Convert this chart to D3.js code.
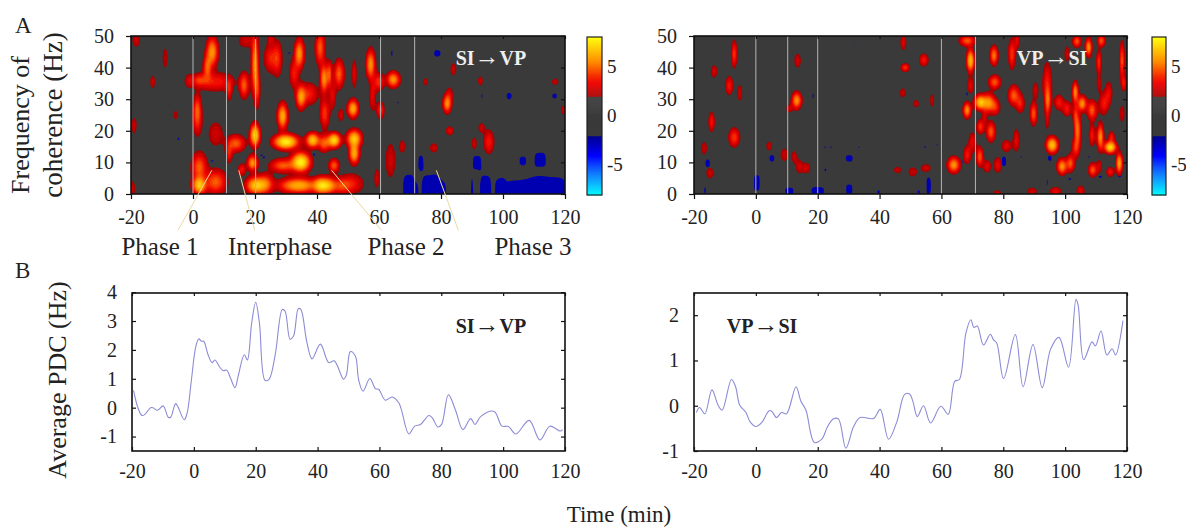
<!DOCTYPE html>
<html>
<head>
<meta charset="utf-8">
<script src="https://cdnjs.cloudflare.com/ajax/libs/d3/7.8.5/d3.min.js"></script>
<style>
html, body { margin: 0; padding: 0; background: #fff; }
text { font-family: "Liberation Serif", serif; fill: #222; }
</style>
</head>
<body>
<div id="chart"></div>
<script>
// blobs: [time, freq, half duration, half bandwidth, peak]
let siVpRed = [
  [6.2,45,1.6,5,6],[2,36,1.6,1.6,4],[-1.3,35.8,.8,1.5,3],[7.3,35.5,4.5,2.5,4],[4.6,40,1,4,5],[1.4,26.5,1,5,5],[1.4,22,.8,3,3],
  [11.6,33,.6,3,4],[16.5,34.4,1.2,4,5],[20,41,.9,11,6],[20.8,33,.5,5,4],[25,43,1.5,4,4],[27.3,42.8,1,5,4],[17,48.4,1.5,1.5,3],
  [34.3,44.4,1.3,5,6],[41,46.3,1.2,5.5,5],[32.6,38,1,4,4],[34.8,30.7,1.3,4,6],[28.9,24.6,1.4,4.5,6.5],[37.5,31.7,2,3,4],
  [42.5,25.5,1.1,4.5,4.5],[20,18.6,1.4,4,7.5],[30,16.5,4,2.6,8],[38.6,17,2,2.5,7],[13.8,16,2.5,2.5,5],[7.3,19,1.5,3,3],
  [19.2,9.8,1.4,2.5,6],[34.8,10.1,3,3.5,8],[29,9,3.5,2,5],[11.6,12.8,.7,2.5,4],[2,8.5,2,4.5,5],[2,2.7,2,3,7],[7.3,3.8,3,3.8,5],
  [20.3,2.7,3,3,7],[23.5,3.2,2,3,5],[34,2.7,6,2.5,6.5],[41,2.7,2,2.7,6],[15.7,7.7,.8,1.5,4],[-19,21.7,.4,2,3],[-19.6,1.7,.5,1.8,3],
  [-9,43,.4,2.5,2.5],[-13,35.5,.4,1.5,3],[-18.3,48.6,.7,1.5,3],[-5.6,25,.3,1,2.5],[25,49,.5,1,3],
  [42.3,36.5,1,5,6],[44,38,.5,4,5],[47.1,38,1.3,4.5,5],[52,38,.4,4,3.5],[57.3,41,1.2,5,6],[60,35.5,1.2,2.5,4.5],[64.6,36.2,1.8,2.5,6],
  [57.9,31,.6,4,3.5],[45,31,.6,3.5,3.5],[51.6,27,1.5,3,6.5],[60.5,26.5,.8,2.5,4.5],[45.5,17,2,2.5,7.5],[52,17.5,2.2,3,7],[52,12.8,1.4,3.5,6.5],
  [42.3,16,1.5,2.5,5],[45.5,9,1.3,2,5],[43.4,2.7,2.5,2.7,6.5],[50.9,3.2,3,2.7,4],[47.7,2.5,2,2,4],[47.7,25,.5,1.5,3],[59.3,5,.4,2.5,3],
  [67.5,15,.5,1.5,3],[63.7,10.6,1,4.5,3],[82,28.6,1.1,3,6],[82.8,31.7,.5,1.5,3],[82.8,20,.8,1,3.5],[77.7,14.6,.8,1,3],[95.4,16.5,1.2,3.3,4],
  [93,21,.5,1,3],[90.7,16,.4,1.5,3],[92.7,35.8,.4,1,3],[84,39.5,.5,1.5,3],[75,35.5,.4,.7,3],[116.8,35.5,.6,.6,3],[119.5,26.6,.4,1,3]
]
let siVpBlue = [
  [69.5,0,1.7,6],[71.5,0,.8,2.5],[76.4,0,2.6,5.9],[80,0,1.5,3.5],[90,0,.4,5],[94.3,0,1.7,5.7],[99,0,1.2,4],[105,0,4.5,4.2],[115.5,0,4.9,5.3],
  [91.6,10,1.2,2],[112,11,1.7,2],[106.4,10.5,1,1.3],[73.5,10,.7,2],[102,31,.8,1],[116.6,31,.7,.8],[78.8,44.5,1,1],[64,44.5,.3,1],[69.7,44.5,.3,1],
  [-4.6,17.5,.4,.5],[6.2,10.5,.4,.4],[31,44.6,.4,.4],[22,12.2,.4,.4],[23,11.5,.4,.4],[39,12.5,.4,.5],[62,30,.3,.4],[66,29,.3,.4],[93,31,.3,.6]
]
let vpSiRed = [
  [-7,44.3,.6,4,4.5],[-13.5,38.8,.6,1.5,3],[-8.6,34.3,.8,2.5,4],[-5.2,32,.4,2,3],[-14.3,22.8,.6,2.7,4],[-7,17.9,1.3,2.7,4.5],[-16.7,14.5,.5,1.5,2.8],
  [-14.8,6.6,.7,1.2,3],[13.5,42.2,.6,1.7,3],[13.2,29.6,1.3,2.7,6],[10.8,27,.5,.8,3],[4.3,15.2,.5,1,2.8],[9.2,12.4,.7,1.5,2.8],[12.4,11.8,.4,1.3,3],
  [14,8.7,.6,1.6,3],[16.4,8.2,.7,1.2,3],[47.7,48,.5,2,3.5],[48.3,40,1,1,4.5],[54.3,42.4,1,1.6,4],[47.5,32,.5,1,2.8],[51.8,28.6,.5,.8,2.8],
  [45.8,7.6,.7,.6,2.8],[50.7,7,.8,1,2.8],[55,8.2,1,.8,3],
  [68.3,48.5,2,1.5,5],[69.4,42.2,1,4,7],[69.4,34.3,.6,2,3.5],[68.3,26.5,1,2.5,6],[72.6,29,1.7,2.5,7],[75.3,28.8,1.7,3,6],[77.5,27.5,1,2,4],
  [77,43.8,1,3,5.5],[77.2,35.4,1.5,2,5],[82.8,44.3,.8,4.5,4.5],[84.5,48.5,.4,2,3.5],[83.4,31.2,1.4,3,5],[85.5,28.6,.9,2.5,4],[72.6,21.3,.8,2,4.5],
  [76,19.7,1.1,3,5],[74,24.4,.3,1.5,3],[70,16.5,.7,2.5,3.5],[72.4,11.8,.8,3,5],[68.3,12.4,.8,2.4,4],[64,9.2,1.7,2.5,6],[74.8,8.7,.7,1.5,3.5],
  [78.2,9.2,.8,2,3.5],[81,15.2,1,1.5,3.5],[84.2,17,.6,3,3.5],[89.8,25.4,.8,3.5,5],[90.4,32.8,.5,2,3],[94.2,35,1,6,4],[94.4,29.6,.6,4,5],[94.2,24,.3,3,3],
  [95.8,15.5,1.7,2.7,7],[98,29,1,2,4],[100.6,27,1,2,4],[99,8.7,1.3,2.5,6],[101.7,9.7,1,2.5,5],[104,20,.8,6,5.5],[103.3,14.5,.8,2.5,4],[103.3,25,.4,3,4],
  [103.3,32.2,.7,3.5,6],[105.5,28.6,1.2,2.5,6],[107.6,46.4,.8,3,6],[103.8,48.3,1,1.7,5],[100.6,44.3,.4,2,3],[110.9,41.7,.5,3.5,4.5],[111.7,48.5,.9,1.7,5],
  [110.9,35,.3,2,3],[108.7,26.5,1.2,3,5],[112.5,28.6,1,3,4],[114.1,32,.7,3,3.5],[111.4,18,.8,4.5,6],[114.6,14.8,1.8,2,7.5],[108.7,18.6,.6,3,4],[115,18,.6,1.5,4],
  [108.9,7.6,1,2,5],[111,8.7,.4,1.5,3],[114.6,7,.8,1.2,4],[117.5,9.7,.8,3.5,6.5],[118.4,42.2,.5,6,5],[119,35,.5,2,4],[118.4,25.4,.4,2,3],[57,29.6,.3,1.5,2.8],
  [89.3,.8,1,.8,3],[96.9,.8,1.3,1,3.5],[105,1,.8,1.2,3.5],[78,.3,.8,.5,3]
]
let vpSiBlue = [
  [.3,3.5,.9,2.5],[-16.4,1,.3,1.2],[-15.6,9.7,.7,1.2],[5.2,11.3,.8,1],[18.7,31,.3,1],[30.2,11.3,1.1,1],[30.2,1.5,1,1.5],[10.8,1,1.3,1],[20,1,2,1.2],
  [31.8,47.4,.3,.4],[14.9,14.7,.3,.4],[22.3,14.7,.3,.4],[24.3,14.7,.3,.4],[33.2,14.7,.3,.4],[22.6,7.6,.4,.4],[39.6,.5,.4,.8],[52.6,.5,.4,.8],[54.8,14.7,.4,.4],
  [55.9,2.6,.7,2.7],[94.4,3.7,.3,1.3],[80.2,10.3,.7,1.5],[95,11.3,.6,.8],[111.4,5.5,.6,.4],[101.5,4.7,.5,.4],[117.5,5.8,.6,.5],[66.7,10.3,.3,.8],
  [57,14.7,.3,.3],[58.6,15.5,.3,.3],[68.3,31.7,.3,.6],[107.6,11.8,.3,.4],[85.9,11.8,.3,.4]
]
let siVpMarkers = [0, 10.8, 20.2, 60.5, 71.5]
let vpSiMarkers = [0, 10.3, 20, 60, 71]

// average PDC curves: [time, value]
let siVpPdc = [
  [-19.5,.6],[-18,-.03],[-16.8,-.27],[-15.9,-.24],[-14,0],[-13.2,0],[-11.8,-.09],[-9.9,.06],[-8.3,-.33],[-7.5,-.33],[-5.9,.14],[-5.1,.02],[-3.1,-.42],[-2.2,-.2],
  [-.8,.95],[.6,2.1],[1.6,2.38],[2.5,2.3],[3.2,2.3],[4.6,1.83],[5.9,1.56],[6.8,1.65],[8.4,1.4],[9.5,1.28],[10.6,1.3],[11.9,1.01],[13.3,.69],[14.4,1.13],[16.3,1.83],
  [17.3,1.65],[18.7,2.93],[20,3.65],[21.2,2.93],[23,.95],[24.3,.98],[26.3,1.83],[28.6,3.4],[29.5,3.34],[31.1,2.37],[32.2,2.47],[33.8,3.43],[34.6,3.4],[36.5,2.29],
  [38.2,1.69],[40.9,2.2],[43.6,1.56],[45.4,1.62],[48.4,.99],[49.3,1.13],[50.6,1.94],[52.2,1.79],[53.3,.95],[54.7,.57],[56.9,1.01],[58.7,.66],[59.8,.63],[61.9,.26],
  [64.1,.37],[66.3,.16],[69.5,-.91],[71.4,-.64],[73.3,-.58],[76,-.27],[77.1,-.35],[78.9,-.67],[80.1,-.58],[82.3,.45],[84.6,-.09],[87,-.76],[89.5,-.38],[90.9,-.58],
  [92.8,-.3],[97.1,-.13],[99.6,-.64],[101.7,-.65],[104.1,-.91],[108.4,-.44],[111.9,-1.12],[115.1,-.64],[118.5,-.81],[119.2,-.76]
]
let vpSiPdc = [
  [-19.2,-.15],[-18.2,-.04],[-16.5,-.18],[-14.2,.35],[-12.2,.01],[-10.9,-.1],[-7.9,.58],[-6.6,.43],[-5.2,.01],[-3.2,-.15],[-1.9,-.35],[0,-.46],[1.8,-.38],[4.3,-.11],
  [5.1,-.12],[6.7,-.26],[8.3,-.15],[9.9,-.18],[13,.42],[14.5,.11],[16.2,-.1],[18.9,-.81],[21.3,-.74],[23.2,-.46],[25.1,-.29],[26.7,-.29],[29.1,-.94],[31.6,-.46],
  [33.7,-.26],[38.1,-.28],[40.2,-.08],[42.9,-.74],[45.6,-.35],[48.1,.25],[49.7,.26],[50.8,.09],[52.2,-.24],[54.2,0],[56.5,-.38],[59.8,-.01],[62.2,-.19],[64.3,.54],
  [65.8,.58],[67.9,1.6],[69.5,1.9],[70.5,1.73],[71.6,1.76],[73.6,1.34],[75.8,1.58],[76.8,1.46],[77.9,1.38],[80.1,.6],[83.9,1.57],[86.4,.42],[89.6,1.35],[92.6,.4],
  [95.3,1.25],[98,1.51],[101.1,.85],[103.5,2.35],[104.2,2.22],[106,1.02],[108.7,1.41],[109.8,1.32],[111.6,1.65],[113.5,1.12],[115.2,1.26],[116.3,1.12],[118.7,1.88]
]

let timeTicks = [-20, 0, 20, 40, 60, 80, 100, 120]
let freqTicks = [0, 10, 20, 30, 40, 50]
let scaleTicks = [-5, 0, 5]
let siVpPdcTicks = [-1, 0, 1, 2, 3, 4]
let vpSiPdcTicks = [-1, 0, 1, 2]
let phaseNames = ["Phase 1", "Interphase", "Phase 2", "Phase 3"]
// pale leader lines under panel A, [time, freq] at both ends, they run below the axis
let phaseLeaders = [[[6.07,7.5],[-4.87,-11.5]], [[14.76,7.5],[19.9,-11.5]], [[44.7,7.5],[60.8,-11.5]], [[78.5,7.5],[85.6,-11.5]]]

let svg = d3.select("#chart").append("svg")
    .attr("width", 1186)
    .attr("height", 527)
    .style("display", "block")

let blurDef = svg.append("defs").append("filter")
    .attr("id", "soft")
    .attr("x", "-5%").attr("y", "-5%").attr("width", "110%").attr("height", "110%")
blurDef.append("feGaussianBlur").attr("stdDeviation", 0.7)

let color = d3.scaleLinear()
    .domain([-8, -6, -4, -2, 2, 3.4, 5.5, 8])
    .range(["#00ffff", "#0080ff", "#0000ff", "#000090", "#a80000", "#f00000", "#ff8a00", "#ffff10"])
let grey = "#3a3a3a"
let levels = d3.range(2, 8.01, 0.4)
let fmt = (d) => String(d)  //the figure uses a plain hyphen for negatives
let cell = 2

function frame(g, w, h) {
    g.append("rect")
        .attr("width", w).attr("height", h)
        .attr("fill", "none").attr("stroke", "#111").attr("stroke-width", 1.6)
}

function styleAxis(a) {
    a.select(".domain").remove()
    a.selectAll("line").attr("stroke", "#111").attr("stroke-width", 1.2)
    a.selectAll("text").attr("font-size", 20).style("font-family", "Liberation Serif").attr("fill", "#222")
}

// outward ticks on panel A, inward on panel B
function axes(g, x, y, w, h, yTicks, inward) {
    let size = inward ? -4 : 5
    g.append("g").attr("transform", `translate(0,${h})`)
        .call(d3.axisBottom(x).tickValues(timeTicks).tickSize(size).tickPadding(inward ? 13 : 11).tickFormat(fmt))
        .call(styleAxis)
    g.append("g")
        .call(d3.axisLeft(y).tickValues(yTicks).tickSize(size).tickPadding(inward ? 15 : 12).tickFormat(fmt))
        .call(styleAxis)
    g.append("g")
        .call(d3.axisTop(x).tickValues(timeTicks).tickSize(-3).tickFormat(""))
        .call(styleAxis)
    g.append("g").attr("transform", `translate(${w},0)`)
        .call(d3.axisRight(y).tickValues(yTicks).tickSize(-4).tickFormat(""))
        .call(styleAxis)
}

// sample the blobs on a grid so d3.contours can merge them into one surface
function surface(blobs, x, y, n, m, power, grow) {
    let values = new Float64Array(n * m)
    let spread = blobs.map((b) => {
        let peak = b[4] === undefined ? 3 : b[4]
        return {
            t: b[0], f: b[1],
            dt: grow ? b[2] * 1.3 + 0.3 : b[2],
            df: grow ? b[3] * 1.1 + 0.35 : b[3],
            peak, k: 2 * Math.log(peak / 2)
        }
    })
    for (let j = 0; j < m; j++) {
        let f = y.invert((j + 0.5) * cell)
        for (let i = 0; i < n; i++) {
            let t = x.invert((i + 0.5) * cell)
            let total = 0
            spread.forEach((b) => {
                let u = Math.abs(t - b.t) / b.dt, v = Math.abs(f - b.f) / b.df
                if (u > 4 || v > 4) return
                let r = Math.pow(Math.pow(u, power) + Math.pow(v, power), 2 / power)
                total += Math.pow(b.peak * Math.exp(-0.5 * b.k * r), 2)
            })
            values[j * n + i] = Math.sqrt(total)
        }
    }
    return values
}

function heatPanel(left, top, w, h, red, blue, markers, clipId) {
    let g = svg.append("g").attr("transform", `translate(${left},${top})`)
    let x = d3.scaleLinear().domain([-20, 120]).range([0, w])
    let y = d3.scaleLinear().domain([0, 50]).range([h, 0])
    let n = Math.ceil(w / cell), m = Math.ceil(h / cell)
    let path = d3.geoPath(d3.geoIdentity().scale(cell))

    g.append("clipPath").attr("id", clipId).append("rect").attr("width", w).attr("height", h)
    g.append("rect").attr("width", w).attr("height", h).attr("fill", grey)

    let marks = g.append("g").attr("clip-path", `url(#${clipId})`).append("g").attr("filter", "url(#soft)")
    let blueBands = d3.contours().size([n, m]).thresholds([2])(surface(blue, x, y, n, m, 4, false))
    marks.append("g").selectAll("path")
        .data(blueBands)
        .enter()
        .append("path")
        .attr("d", path)
        .attr("fill", color(-2.6))
    let redBands = d3.contours().size([n, m]).thresholds(levels)(surface(red, x, y, n, m, 2, true))
    marks.append("g").selectAll("path")
        .data(redBands)
        .enter()
        .append("path")
        .attr("d", path)
        .attr("fill", (d) => color(d.value))

    g.append("g").selectAll("line")
        .data(markers)
        .enter()
        .append("line")
        .attr("x1", (d) => x(d)).attr("x2", (d) => x(d))
        .attr("y1", 0).attr("y2", h)
        .attr("stroke", "#b4b4b4").attr("stroke-width", 1)

    frame(g, w, h)
    axes(g, x, y, w, h, freqTicks, false)
    return { g, x, y }
}

function colorbar(left, top, w, h) {
    let g = svg.append("g").attr("transform", `translate(${left},${top})`)
    let y = d3.scaleLinear().domain([-8, 8]).range([h, 0])
    let step = 0.1
    g.selectAll("rect")
        .data(d3.range(-8, 8, step))
        .enter()
        .append("rect")
        .attr("x", 0).attr("width", w)
        .attr("y", (d) => y(d + step))
        .attr("height", y(0) - y(step) + 0.5)
        .attr("fill", (d) => Math.abs(d + step / 2) < 2 ? grey : color(d + step / 2))
    g.append("rect").attr("width", w).attr("height", h)
        .attr("fill", "none").attr("stroke", "#222").attr("stroke-width", 1.2)
    g.append("g").selectAll("text")
        .data(scaleTicks)
        .enter()
        .append("text")
        .attr("x", w + 5)
        .attr("y", (d) => y(d) + 6)
        .attr("font-size", 19)
        .text(fmt)
}

function linePanel(left, top, w, h, data, yDomain, yTicks) {
    let g = svg.append("g").attr("transform", `translate(${left},${top})`)
    let x = d3.scaleLinear().domain([-20, 120]).range([0, w])
    let y = d3.scaleLinear().domain(yDomain).range([h, 0])
    let line = d3.line()
        .x((d) => x(d[0]))
        .y((d) => y(d[1]))
        .curve(d3.curveCatmullRom.alpha(0.5))
    g.append("path")
        .datum(data)
        .attr("d", line)
        .attr("fill", "none")
        .attr("stroke", "#8c8cd6")
        .attr("stroke-width", 1.1)
    frame(g, w, h)
    axes(g, x, y, w, h, yTicks, true)
    return g
}

let leftHeat = heatPanel(131, 36, 434, 158, siVpRed, siVpBlue, siVpMarkers, "clipA")
heatPanel(694, 36, 433, 158, vpSiRed, vpSiBlue, vpSiMarkers, "clipB")
colorbar(587, 37, 15, 158)
colorbar(1152, 37, 14, 158)

leftHeat.g.append("g").selectAll("line")
    .data(phaseLeaders)
    .enter()
    .append("line")
    .attr("x1", (d) => leftHeat.x(d[0][0]))
    .attr("y1", (d) => leftHeat.y(d[0][1]))
    .attr("x2", (d) => leftHeat.x(d[1][0]))
    .attr("y2", (d) => leftHeat.y(d[1][1]))
    .attr("stroke", "#ecd9a0")
    .attr("stroke-width", 1)

linePanel(132, 293, 433, 158, siVpPdc, [-1.5, 3.97], siVpPdcTicks)
linePanel(694, 293, 433, 158, vpSiPdc, [-1, 2.49], vpSiPdcTicks)

function label(str, x, y, size, opts) {
    let t = svg.append("text").attr("x", x).attr("y", y).attr("font-size", size).text(str)
    if (opts && opts.rotate) t.attr("transform", `rotate(-90,${x},${y})`).attr("text-anchor", "middle")
    if (opts && opts.middle) t.attr("text-anchor", "middle")
    return t
}

// pair names are bold, the arrow is set larger to match the figure
function pairLabel(from, to, x, y, fill) {
    let t = svg.append("text").attr("x", x).attr("y", y)
        .attr("font-size", 20).attr("font-weight", "bold").attr("text-anchor", "middle")
        .style("fill", fill)
    t.append("tspan").text(from)
    t.append("tspan").attr("font-size", 25).attr("font-weight", "normal").text("→")
    t.append("tspan").text(to)
}

label("A", 15, 33, 23)
label("B", 15, 278, 23)
label("Frequency of", 29, 125, 26, { rotate: true })
label("coherence (Hz)", 62, 115, 27, { rotate: true })
label("Average PDC (Hz)", 66, 380, 26, { rotate: true })
label("Time (min)", 619, 522, 23, { middle: true })

let phaseX = [160, 280, 406, 533]
phaseNames.forEach((name, i) => label(name, phaseX[i], 255, 25, { middle: true }))

pairLabel("SI", "VP", 491, 65, "#eee")
pairLabel("VP", "SI", 1052, 65, "#eee")
pairLabel("SI", "VP", 491, 333, "#222")
pairLabel("VP", "SI", 762, 333, "#222")
</script>
</body>
</html>
